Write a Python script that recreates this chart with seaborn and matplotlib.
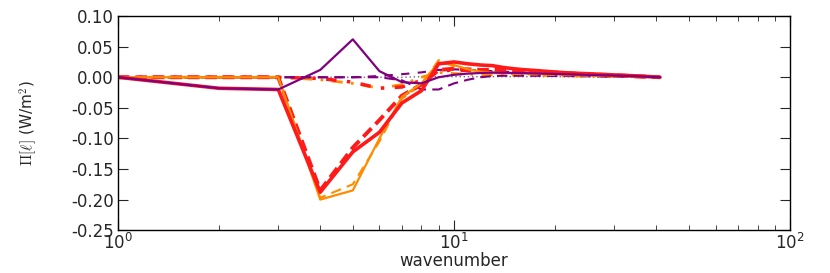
import numpy as np
import pandas as pd
import matplotlib
matplotlib.use("Agg")
import matplotlib.pyplot as plt
import seaborn as sns
from matplotlib.ticker import LogLocator, MultipleLocator, FormatStrFormatter

sns.set_style("ticks")
plt.rcParams["font.family"] = ["DejaVu Sans"]
plt.rcParams["mathtext.fontset"] = "cm"

# wavenumbers 1..41
wavenumber = list(range(1, 42))

red_solid = [0.0, -0.018, -0.020, -0.188, -0.122, -0.090, -0.042, -0.022, 0.022, 0.025,
             0.022, 0.020, 0.019, 0.016, 0.014, 0.0125, 0.0115, 0.0105, 0.0095, 0.0085,
             0.0078, 0.0070, 0.0066, 0.0062, 0.0058, 0.0054, 0.0050, 0.0046, 0.0042, 0.0038,
             0.0035, 0.0032, 0.0028, 0.0025, 0.0022, 0.0018, 0.0015, 0.0011, 0.0008, 0.0004, 0.0]
orange_solid = [0.0, 0.0, 0.0, -0.200, -0.185, -0.100, -0.032, -0.010, 0.024, 0.020,
                0.013, 0.009, 0.008, 0.007, 0.0068, 0.0065, 0.006, 0.0057, 0.0054, 0.005,
                0.0047, 0.0044, 0.0041, 0.0038, 0.0036, 0.0034, 0.0032, 0.003, 0.0028, 0.0026,
                0.0024, 0.0022, 0.002, 0.0018, 0.0015, 0.0012, 0.001, 0.0008, 0.0005, 0.0003, 0.0]
purple_solid = [0.0, -0.018, -0.020, 0.012, 0.062, 0.010, -0.008, -0.010, 0.0, 0.004,
                0.006, 0.007, 0.0075, 0.0075, 0.007, 0.0068, 0.0065, 0.006, 0.0057, 0.0054,
                0.005, 0.0047, 0.0044, 0.0041, 0.0038, 0.0036, 0.0034, 0.0032, 0.003, 0.0028,
                0.0026, 0.0024, 0.0022, 0.002, 0.0017, 0.0014, 0.0011, 0.0008, 0.0005, 0.0003, 0.0]
red_dashed = [0.0, 0.0, 0.0, -0.185, -0.115, -0.070, -0.030, -0.012, 0.012, 0.014,
              0.013, 0.012, 0.012, 0.012, 0.0115, 0.011, 0.010, 0.0092, 0.0085, 0.0078,
              0.0072, 0.0066, 0.006, 0.0055, 0.005, 0.0046, 0.0042, 0.0038, 0.0035, 0.0032,
              0.0029, 0.0026, 0.0023, 0.002, 0.0017, 0.0014, 0.0011, 0.0008, 0.0005, 0.0003, 0.0]
orange_dashed = [0.0, 0.0, 0.0, -0.197, -0.175, -0.105, -0.035, -0.012, 0.028, 0.018,
                 0.012, 0.009, 0.007, 0.006, 0.0055, 0.005, 0.0047, 0.0044, 0.0041, 0.0038,
                 0.0035, 0.0032, 0.003, 0.0028, 0.0026, 0.0024, 0.0022, 0.002, 0.0018, 0.0016,
                 0.0015, 0.0014, 0.0012, 0.0011, 0.001, 0.0008, 0.0006, 0.0005, 0.0003, 0.0002, 0.0]
purple_dashed = [0.0, 0.0, 0.0, 0.0, 0.0, 0.0, -0.005, -0.020, -0.020, -0.010,
                 -0.004, 0.0, 0.002, 0.0025, 0.0025, 0.0025, 0.0024, 0.0023, 0.0022, 0.0021,
                 0.002, 0.0019, 0.0018, 0.0017, 0.0016, 0.0015, 0.0014, 0.0013, 0.0012, 0.0011,
                 0.001, 0.0009, 0.0008, 0.0007, 0.0006, 0.0005, 0.0004, 0.0003, 0.0002, 0.0001, 0.0]
red_dashdot = [0.0, 0.0, 0.0, -0.002, -0.008, -0.018, -0.016, -0.005, 0.010, 0.012,
               0.011, 0.010, 0.009, 0.008, 0.0075, 0.007, 0.0065, 0.006, 0.0055, 0.005,
               0.0046, 0.0042, 0.0038, 0.0035, 0.0032, 0.003, 0.0028, 0.0026, 0.0024, 0.0022,
               0.002, 0.0018, 0.0016, 0.0014, 0.0012, 0.001, 0.0008, 0.0006, 0.0004, 0.0002, 0.0]
orange_dashdot = [0.0, 0.0, 0.0, -0.004, -0.010, -0.018, -0.012, 0.0, 0.008, 0.006,
                  0.005, 0.0045, 0.004, 0.0038, 0.0036, 0.0034, 0.0032, 0.003, 0.0028, 0.0026,
                  0.0024, 0.0022, 0.002, 0.0019, 0.0018, 0.0017, 0.0016, 0.0015, 0.0014, 0.0013,
                  0.0012, 0.0011, 0.001, 0.0009, 0.0008, 0.0007, 0.0006, 0.0005, 0.0003, 0.0002, 0.0]
purple_dashdot = [0.0, 0.0, 0.0, 0.0, 0.0, 0.002, 0.005, 0.008, 0.012, 0.013,
                  0.012, 0.011, 0.010, 0.009, 0.0085, 0.008, 0.0075, 0.007, 0.0065, 0.006,
                  0.0055, 0.005, 0.0046, 0.0042, 0.0038, 0.0035, 0.0032, 0.0029, 0.0026, 0.0023,
                  0.002, 0.0018, 0.0016, 0.0014, 0.0012, 0.001, 0.0008, 0.0006, 0.0004, 0.0002, 0.0]
purple_dotted = [0.0, 0.0, 0.0, 0.0, 0.0, 0.0, 0.0, 0.001, 0.001, 0.001,
                 0.001, 0.001, 0.001, 0.001, 0.001, 0.001, 0.001, 0.001, 0.001, 0.001,
                 0.001, 0.001, 0.001, 0.001, 0.0008, 0.0008, 0.0008, 0.0007, 0.0006, 0.0005,
                 0.0005, 0.0004, 0.0004, 0.0003, 0.0003, 0.0002, 0.0002, 0.0001, 0.0001, 0.0, 0.0]

RED = "#ff1a1a"
ORANGE = "#ff8c00"
PURPLE = "#800080"

# (values, color, linestyle, linewidth) in draw order
series = [
    (purple_dotted, "#7a5a8a", (0, (1, 2)), 1.0),
    (orange_dashdot, ORANGE, (0, (4, 3, 1, 3)), 2.0),
    (red_dashdot, RED, (0, (3, 3, 1, 3)), 2.5),
    (purple_dashdot, PURPLE, (0, (4, 4)), 1.5),
    (purple_dashed, PURPLE, (0, (5, 3)), 1.5),
    (orange_dashed, ORANGE, (0, (5, 3)), 1.5),
    (red_dashed, RED, (0, (3, 1.5)), 2.8),
    (orange_solid, ORANGE, "-", 1.6),
    (red_solid, RED, "-", 2.6),
    (purple_solid, PURPLE, "-", 1.6),
]

fig = plt.figure(figsize=(8.3, 2.73), dpi=100)
ax = fig.add_axes([0.142, 0.157, 0.810, 0.784])

for vals, color, ls, lw in series:
    df = pd.DataFrame({"wavenumber": wavenumber, "flux": vals})
    sns.lineplot(data=df, x="wavenumber", y="flux", ax=ax, color=color,
                 linestyle=ls, linewidth=lw, legend=False)

ax.set_xscale("log")
ax.set_xlim(1, 100)
ax.set_ylim(-0.25, 0.10)
ax.yaxis.set_major_locator(MultipleLocator(0.05))
ax.yaxis.set_major_formatter(FormatStrFormatter("%.2f"))
ax.xaxis.set_minor_locator(LogLocator(base=10, subs=np.arange(2, 10)))
ax.tick_params(which="both", direction="in", top=True, right=True, labelsize=12)
ax.tick_params(which="major", length=7)
ax.tick_params(which="minor", length=3.5)
ax.tick_params(axis="x", which="both", pad=2)
ax.tick_params(axis="y", which="both", pad=3)
for sp in ax.spines.values():
    sp.set_linewidth(1.0)
    sp.set_color("black")

ax.set_xlabel("wavenumber", fontsize=12, labelpad=-1)
ax.set_ylabel(r"$\Pi[\ell]$ (W/m$^2$)", fontsize=11)
ax.yaxis.set_label_coords(-0.117, 0.5)

fig.savefig("out.png", dpi=100)
